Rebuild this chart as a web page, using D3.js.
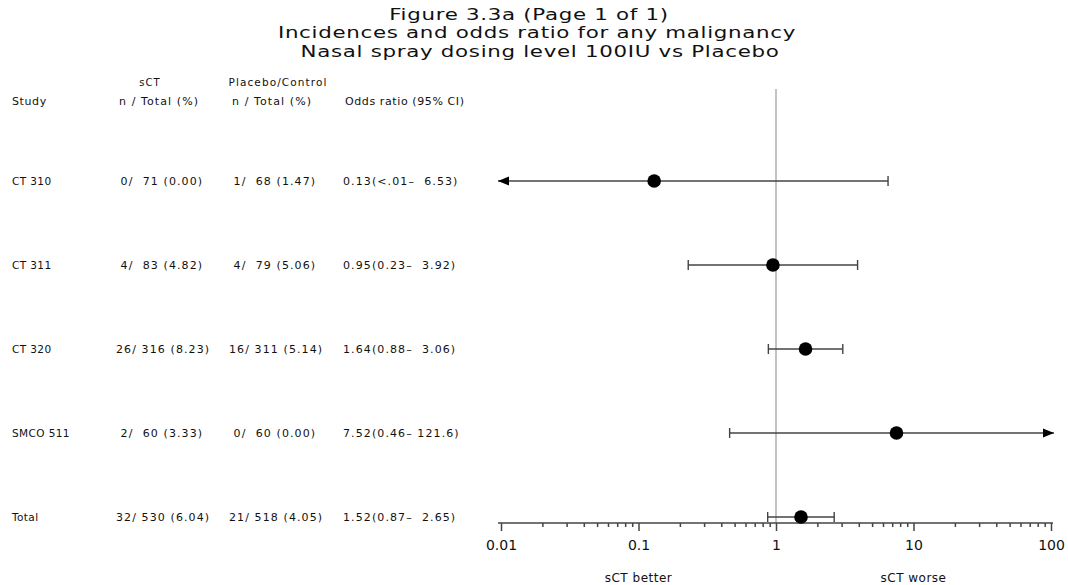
<!DOCTYPE html>
<html>
<head>
<meta charset="utf-8">
<script src="https://cdn.jsdelivr.net/npm/d3@7"></script>
<style>
  body { margin: 0; background: #fff; }
  svg text { font-family: 'DejaVu Sans', sans-serif; fill: #111; }
  .tbl { white-space: pre; }
</style>
</head>
<body>
<svg id="chart" width="1068" height="585"></svg>
<script>
// study rows
var studies = ['CT 310', 'CT 311', 'CT 320', 'SMCO 511', 'Total'];
var sctN = [0, 4, 26, 2, 32];
var sctTotal = [71, 83, 316, 60, 530];
var sctPct = [0.00, 4.82, 8.23, 3.33, 6.04];
var plcN = [1, 4, 16, 0, 21];
var plcTotal = [68, 79, 311, 60, 518];
var plcPct = [1.47, 5.06, 5.14, 0.00, 4.05];
// odds ratio and 95% CI (null = below .01)
var orEst = [0.13, 0.95, 1.64, 7.52, 1.52];
var orLow = [null, 0.23, 0.88, 0.46, 0.87];
var orHigh = [6.53, 3.92, 3.06, 121.6, 2.65];

var titles = ['Figure 3.3a (Page 1 of 1)',
	'Incidences and odds ratio for any malignancy',
	'Nasal spray dosing level 100IU vs Placebo'];
var majorTicks = [0.01, 0.1, 1, 10, 100];

var svg = d3.select('#chart');

var x = d3.scaleLog().domain([0.01, 100]).range([501, 1051]);
var y = d3.scalePoint().domain(studies).range([181, 517]);
var axisY = 523;

var pad = function(v, n) {
	var s = String(v);
	while (s.length < n) s = ' ' + s;
	return s;
}

// titles (wide lettering, stretched sideways)
var titleX = [529, 537, 540];
var stretch = 1.38;
svg.selectAll('text.title')
	.data(titles)
	.enter()
	.append('text')
	.attr('class', 'title')
	.attr('transform', (d, i) => 'translate(' + titleX[i] + ',' + (19.5 + i * 18.5) + ') scale(' + stretch + ',1)')
	.attr('text-anchor', 'middle')
	.attr('font-size', 15.5)
	.attr('letter-spacing', 0.5)
	.text(d => d);

// column headers
var hdr = svg.append('g').attr('font-size', 11).attr('letter-spacing', 1.1);
hdr.append('text').attr('x', 12).attr('y', 105).attr('letter-spacing', 0.6).text('Study');
hdr.append('text').attr('x', 150).attr('y', 86).attr('text-anchor', 'middle').attr('font-size', 10).text('sCT');
hdr.append('text').attr('x', 119).attr('y', 105).text('n / Total (%)');
hdr.append('text').attr('x', 278).attr('y', 86).attr('text-anchor', 'middle').attr('font-size', 10.5).text('Placebo/Control');
hdr.append('text').attr('x', 232).attr('y', 105).text('n / Total (%)');
hdr.append('text').attr('x', 345).attr('y', 105).attr('letter-spacing', 0.6).text('Odds ratio (95% CI)');

// table rows
var rows = svg.selectAll('g.row')
	.data(studies)
	.enter()
	.append('g')
	.attr('class', 'row')
	.attr('font-size', 11)
	.attr('letter-spacing', 1.1)
	.attr('transform', d => 'translate(0,' + (y(d) + 3.5) + ')');

rows.append('text').attr('x', 12).attr('letter-spacing', 0.4).attr('font-size', 10.5).text(d => d);
rows.append('text').attr('class', 'tbl').attr('x', 116)
	.text((d, i) => pad(sctN[i], 2) + '/ ' + pad(sctTotal[i], 3) + ' (' + sctPct[i].toFixed(2) + ')');
rows.append('text').attr('class', 'tbl').attr('x', 229)
	.text((d, i) => pad(plcN[i], 2) + '/ ' + pad(plcTotal[i], 3) + ' (' + plcPct[i].toFixed(2) + ')');
rows.append('text').attr('class', 'tbl').attr('x', 343)
	.text((d, i) => orEst[i].toFixed(2) + '(' + (orLow[i] === null ? '<.01' : orLow[i].toFixed(2)) + '\u2013 ' +
		pad(orHigh[i] >= 100 ? orHigh[i].toFixed(1) : orHigh[i].toFixed(2), 5) + ')');

// reference line at OR = 1
svg.append('line')
	.attr('x1', x(1)).attr('x2', x(1))
	.attr('y1', 89).attr('y2', axisY)
	.attr('stroke', '#9a9a9a')
	.attr('stroke-width', 1.2);

// axis with major and minor ticks
var axisG = svg.append('g').attr('transform', 'translate(0,' + axisY + ')');
var minor = [];
majorTicks.slice(0, -1).forEach(m => { for (var k = 2; k < 10; k++) minor.push(m * k); });
axisG.append('g')
	.call(d3.axisBottom(x).tickValues(minor).tickSize(4).tickSizeOuter(0).tickFormat(''))
	.call(g => g.select('.domain').remove());
axisG.append('g')
	.call(d3.axisBottom(x).tickValues(majorTicks).tickSize(8).tickSizeOuter(0).tickPadding(9).tickFormat(d => String(d)))
	.call(g => g.select('.domain').attr('d', 'M' + (x(0.01) - 3) + ',0H' + (x(100) + 2)));
axisG.selectAll('line, path').attr('stroke', '#444').attr('stroke-width', 1.5);
axisG.selectAll('text').attr('font-size', 14).attr('font-family', "'DejaVu Sans', sans-serif").attr('fill', '#111');

svg.append('text').attr('x', x(0.1)).attr('y', 582).attr('text-anchor', 'middle').attr('font-size', 12).attr('letter-spacing', 0.5).text('sCT better');
svg.append('text').attr('x', x(10)).attr('y', 582).attr('text-anchor', 'middle').attr('font-size', 12).attr('letter-spacing', 0.5).text('sCT worse');

// confidence intervals
var ciData = studies.map((s, i) => ({
	s: s, est: orEst[i],
	lo: orLow[i] === null ? null : orLow[i],
	hi: orHigh[i]
}));
var lx = d => d.lo === null ? x.range()[0] - 3 : x(d.lo);
var hx = d => d.hi > 100 ? x.range()[1] + 3 : x(d.hi);

var ci = svg.selectAll('g.ci')
	.data(ciData)
	.enter()
	.append('g')
	.attr('class', 'ci')
	.attr('transform', d => 'translate(0,' + y(d.s) + ')');

ci.append('line')
	.attr('x1', lx).attr('x2', hx)
	.attr('stroke', '#444').attr('stroke-width', 1.4);

// caps where the interval is inside the axis range
ci.filter(d => d.lo !== null).append('line')
	.attr('x1', lx).attr('x2', lx).attr('y1', -5).attr('y2', 5)
	.attr('stroke', '#444').attr('stroke-width', 1.4);
ci.filter(d => d.hi <= 100).append('line')
	.attr('x1', hx).attr('x2', hx).attr('y1', -5).attr('y2', 5)
	.attr('stroke', '#444').attr('stroke-width', 1.4);

// arrows where it runs off the axis
ci.filter(d => d.lo === null).append('path')
	.attr('d', d => { var t = lx(d); return 'M' + t + ',0L' + (t + 11) + ',-4.5L' + (t + 11) + ',4.5Z'; })
	.attr('fill', '#000');
ci.filter(d => d.hi > 100).append('path')
	.attr('d', d => { var t = hx(d); return 'M' + t + ',0L' + (t - 11) + ',-4.5L' + (t - 11) + ',4.5Z'; })
	.attr('fill', '#000');

ci.append('circle')
	.attr('cx', d => x(d.est))
	.attr('r', 6.8)
	.attr('fill', '#000');
</script>
</body>
</html>
